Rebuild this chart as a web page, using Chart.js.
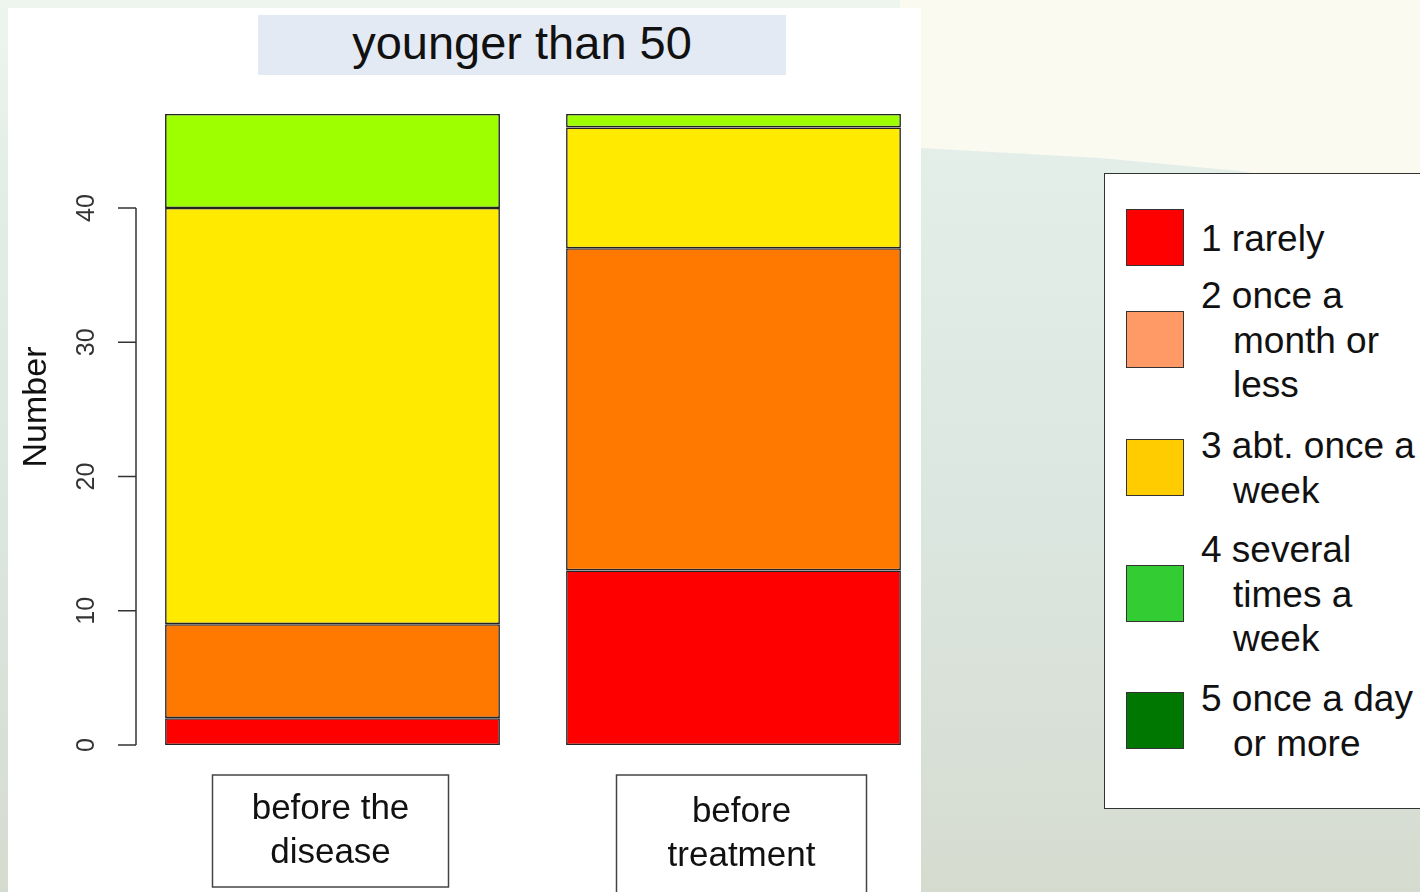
<!DOCTYPE html>
<html>
<head>
<meta charset="utf-8">
<script src="https://cdn.jsdelivr.net/npm/chart.js@4.4.1/dist/chart.umd.min.js"></script>
<style>
    html, body { margin: 0; padding: 0; }
    body {
        width: 1420px;
        height: 892px;
        overflow: hidden;
        position: relative;
        font-family: 'Liberation Sans', Arial, sans-serif;
        background: linear-gradient(180deg, #eef5ef 0px, #e4eee9 160px, #dbe6e0 520px, #d6dbcf 892px);
    }
    .cream {
        position: absolute;
        left: 0; top: 0;
        width: 1420px; height: 260px;
        background: #fafaf0;
        clip-path: polygon(900px 0, 1420px 0, 1420px 200px, 1240px 171px, 1100px 158px, 921px 148px, 900px 148px);
    }
    .panel {
        position: absolute;
        left: 8px; top: 8px;
        width: 913px; height: 884px;
        background: #ffffff;
    }
    .title {
        position: absolute;
        left: 258px; top: 15px;
        width: 528px; height: 60px;
        background: #e4eaf4;
        color: #111;
        font-size: 47px;
        line-height: 56px;
        text-align: center;
    }
    canvas { position: absolute; left: 0; top: 0; }
    .legend {
        position: absolute;
        left: 1104px; top: 173px;
        width: 340px; height: 636px;
        background: #fff;
        border: 1px solid #333;
        box-sizing: border-box;
    }
    .entry { position: absolute; left: 0; }
    .swatch {
        position: absolute;
        left: 21px;
        width: 58px; height: 57px;
        border: 1px solid #333;
        box-sizing: border-box;
    }
    .lines {
        position: absolute;
        left: 96px;
        font-size: 37px;
        line-height: 44.5px;
        color: #111;
        white-space: nowrap;
    }
    .lines div + div { padding-left: 32px; }
</style>
</head>
<body>
<div class="cream"></div>
<div class="panel"></div>
<div class="title">younger than 50</div>
<canvas id="chart" width="1420" height="892"></canvas>
<div class="legend" id="legend"></div>

<script>
// groups along the x axis
const groups = [['before the', 'disease'], ['before', 'treatment']];

// frequency categories
const categories = ['1 rarely', '2 once a month or less', '3 abt. once a week', '4 several times a week', '5 once a day or more'];
const legendLines = [
    ['1 rarely'],
    ['2 once a', 'month or', 'less'],
    ['3 abt. once a', 'week'],
    ['4 several', 'times a', 'week'],
    ['5 once a day', 'or more']
];

// counts per group
const rarely = [2, 13];
const monthly = [7, 24];
const weekly = [31, 9];
const severalWeekly = [7, 1];
const daily = [0, 0];

const yTicks = [0, 10, 20, 30, 40];
const yMax = 47;

const barColors = ['#ff0000', '#ff7800', '#ffea00', '#9eff00', '#007700'];
const legendColors = ['#ff0000', '#ff9966', '#ffcc00', '#33cc33', '#007700'];

// legend (html)
const legendEl = document.getElementById('legend');
const entryTops = [43, 100, 250, 354, 503];
legendLines.forEach((lines, i) => {
    const entry = document.createElement('div');
    entry.className = 'entry';
    entry.style.top = entryTops[i] + 'px';
    const blockH = lines.length * 44.5;
    entry.innerHTML = `
        <div class="swatch" style="background:${legendColors[i]}; top:${blockH / 2 - 30}px"></div>
        <div class="lines">${lines.map(l => `<div>${l}</div>`).join('')}</div>
    `;
    legendEl.appendChild(entry);
});

// R style y axis and boxed group labels
const rAxes = {
    id: 'rAxes',
    afterDraw(chart) {
        const ctx = chart.ctx;
        const y = chart.scales.y;
        const x = chart.scales.x;
        const axisX = chart.chartArea.left + 4;

        ctx.save();
        ctx.strokeStyle = '#333';
        ctx.lineWidth = 1.5;
        ctx.beginPath();
        ctx.moveTo(axisX, y.getPixelForValue(yTicks[0]));
        ctx.lineTo(axisX, y.getPixelForValue(yTicks[yTicks.length - 1]));
        yTicks.forEach(v => {
            const py = y.getPixelForValue(v);
            ctx.moveTo(axisX, py);
            ctx.lineTo(axisX - 18, py);
        });
        ctx.stroke();

        ctx.fillStyle = '#333';
        ctx.font = '25px "Liberation Sans", Arial, sans-serif';
        ctx.textAlign = 'center';
        ctx.textBaseline = 'middle';
        yTicks.forEach(v => {
            const py = y.getPixelForValue(v);
            ctx.save();
            ctx.translate(axisX - 49, py);
            ctx.rotate(-Math.PI / 2);
            ctx.fillText(String(v), 0, 0);
            ctx.restore();
        });

        // axis title
        ctx.fillStyle = '#111';
        ctx.font = '34px "Liberation Sans", Arial, sans-serif';
        ctx.save();
        ctx.translate(37, 407);
        ctx.rotate(-Math.PI / 2);
        ctx.fillText('Number', 0, 0);
        ctx.restore();

        // group labels in boxes
        const boxW = [236, 250];
        const boxShift = [-2, 8];
        const boxTop = y.getPixelForValue(0) + 30;
        ctx.font = '35px "Liberation Sans", Arial, sans-serif';
        groups.forEach((lines, i) => {
            const cx = x.getPixelForValue(i) + boxShift[i];
            ctx.strokeStyle = '#444';
            ctx.lineWidth = 1.5;
            ctx.strokeRect(cx - boxW[i] / 2, boxTop, boxW[i], 112 + i * 10);
            ctx.fillStyle = '#111';
            lines.forEach((line, j) => {
                ctx.fillText(line, cx, boxTop + 34 + i * 3 + j * 44);
            });
        });
        ctx.restore();
    }
};

const series = [rarely, monthly, weekly, severalWeekly, daily];

new Chart(document.getElementById('chart'), {
    type: 'bar',
    data: {
        labels: groups.map(g => g.join(' ')),
        datasets: series.map((values, i) => ({
            label: categories[i],
            data: values,
            backgroundColor: barColors[i],
            borderColor: '#222',
            borderWidth: values.some(v => v > 0) ? 1.6 : 0,
            borderSkipped: false,
            barPercentage: 0.835,
            categoryPercentage: 1
        }))
    },
    options: {
        responsive: false,
        animation: false,
        layout: { padding: { left: 132, top: 114, right: 486, bottom: 147 } },
        plugins: {
            legend: { display: false },
            tooltip: { enabled: false },
            title: { display: false }
        },
        scales: {
            x: { stacked: true, display: false },
            y: { stacked: true, display: false, min: 0, max: yMax }
        }
    },
    plugins: [rAxes]
});
</script>
</body>
</html>
